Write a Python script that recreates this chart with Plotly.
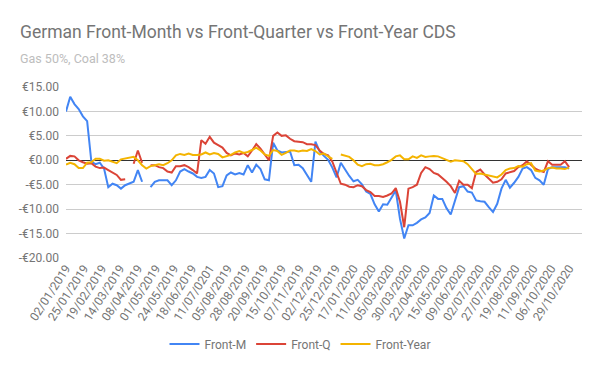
import pandas as pd
import plotly.graph_objects as go

# ---------------- data ----------------
# x axis: business-day categories (labels shown every 17th day)
business_days = [d.strftime("%d/%m/%Y") for d in pd.bdate_range("2019-01-02", periods=489)]
tick_labels = ["02/01/2019", "25/01/2019", "19/02/2019", "14/03/2019", "08/04/2019",
               "01/05/2019", "24/05/2019", "18/06/2019", "11/07/0201", "05/08/2019",
               "28/08/2019", "20/09/2019", "15/10/2019", "07/11/2019", "02/12/2019",
               "25/12/2019", "17/01/2020", "11/02/2020", "05/03/2020", "30/03/2020",
               "22/04/2020", "15/05/2020", "09/06/2020", "02/07/2020", "27/07/2020",
               "19/08/2020", "11/09/2020", "06/10/2020", "29/10/2020"]
tick_dates = business_days[::17][:len(tick_labels)]

# values read every 4th business day (None = missing)
sample_dates = business_days[0:477:4]

front_m = [10.0, 13.0, 11.5, 10.5, 9.0, 8.0, -0.3, -0.8, -0.5, -1.7,
           -5.5, -4.8, -5.1, -5.8, -5.1, -4.8, -4.4, -2.0, -4.4, None,
           -5.5, -4.4, -4.1, -4.1, -4.1, -5.1, -4.1, -2.3, -1.8, -2.3,
           -2.7, -3.4, -3.6, -3.4, -2.0, -2.7, -5.5, -5.3, -3.1, -2.5,
           -2.9, -2.6, -2.9, -1.0, -2.5, -0.9, -1.8, -3.9, -4.1, 3.6,
           2.0, 1.6, 1.7, 1.8, -1.0, -0.9, -1.6, -2.9, -4.4, 3.8,
           1.8, 0.9, 0.1, -1.5, -3.5, -0.5, -2.0, -3.2, -4.3, -4.0,
           -4.9, -6.4, -6.9, -9.0, -10.5, -9.0, -9.1, -7.5, -6.2, -12.0,
           -16.0, -13.3, -13.3, -12.8, -12.1, -11.7, -10.8, -7.2, -7.9, -7.9,
           -9.8, -11.1, -8.5, -5.5, -5.3, -6.4, -6.6, -8.2, -8.4, -8.5,
           -9.6, -10.6, -8.9, -5.8, -4.0, -5.6, -4.6, -3.4, -1.7, -1.4,
           -2.0, -3.6, -4.1, -5.0, -1.8, -1.4, -1.4, -1.4, -1.4, -1.7]

front_q = [0.3, 0.9, 0.8, 0.0, -0.4, -0.7, -0.6, -1.3, -1.6, -1.5,
           -2.0, -2.5, -3.0, -4.0, -3.9, None, -0.7, 2.0, -0.5, None,
           -1.0, -1.0, -1.4, -1.6, -2.3, -2.5, -1.2, -1.2, -1.0, -1.4,
           -2.0, -2.7, 4.1, 3.4, 4.8, 3.6, 3.1, 2.6, 1.5, 1.0,
           1.4, 1.2, 1.5, 0.8, 2.0, 3.3, 2.4, 1.2, 0.0, 5.0,
           5.7, 5.0, 5.1, 4.4, 3.9, 3.8, 3.7, 3.3, 3.3, 3.1,
           2.0, 1.3, 1.0, -0.3, -2.4, -4.8, -5.0, -5.4, -5.5, -5.1,
           -5.3, -6.1, -6.5, -7.3, -7.3, -7.5, -7.2, -6.8, -5.7, -8.5,
           -13.7, -5.8, -5.5, -5.0, -2.6, -1.4, -1.8, -2.6, -2.9, -3.6,
           -4.4, -5.3, -6.7, -4.2, -5.0, -5.0, -5.7, -2.4, -1.9, -2.9,
           -3.8, -4.6, -4.4, -3.9, -2.7, -2.5, -2.2, -1.4, -1.0, -0.2,
           -0.9, -1.7, -2.1, -2.4, -0.2, -0.9, -0.9, -0.9, -0.2, -1.4]

front_year = [-0.9, -0.5, -0.8, -1.6, -1.6, -0.5, -0.4, 0.3, 0.3, -0.1,
              0.0, -0.3, -0.6, 0.2, 0.4, 0.6, 0.7, 0.0, -1.0, -1.7,
              -1.2, -1.0, -0.8, -1.0, -0.6, 0.0, 1.0, 1.3, 1.1, 1.4,
              1.1, 1.1, 1.2, 1.6, 1.2, 1.5, 1.3, 0.6, 0.9, 1.1,
              1.6, 1.9, 1.5, 1.7, 2.1, 2.6, 2.0, 1.2, 0.9, 2.1,
              1.9, 1.1, 1.5, 2.0, 2.0, 1.8, 2.0, 1.9, 2.3, 1.9,
              1.2, 1.4, 0.8, 0.3, None, 1.2, 1.0, 0.7, 0.0, -0.9,
              -1.2, -0.8, -0.7, -1.0, -1.0, -0.8, -0.4, 0.1, 0.8, 1.0,
              0.2, 0.2, 0.8, 0.5, 1.0, 0.7, 0.8, 0.9, 0.8, 0.5,
              0.1, -0.3, 0.0, -0.1, -0.2, -0.8, -1.8, -2.8, -2.7, -2.9,
              -3.2, -3.4, -3.5, -2.9, -2.0, -1.7, -1.6, -1.2, -1.3, -0.8,
              -0.6, -2.1, -2.3, -2.1, -1.6, -1.5, -1.7, -1.7, -1.8, -1.5]

series_names = ["Front-M", "Front-Q", "Front-Year"]
series_colors = ["#4285F4", "#DB4437", "#F4B400"]

y_tick_vals = [-20, -15, -10, -5, 0, 5, 10, 15]
y_tick_text = ["-€20.00", "-€15.00", "-€10.00", "-€5.00", "€0.00", "€5.00", "€10.00", "€15.00"]

title_text = "German Front-Month vs Front-Quarter vs Front-Year CDS"
subtitle_text = "Gas 50%, Coal 38%"

# ---------------- figure ----------------
FONT = "Roboto, Arial, sans-serif"
fig = go.Figure()
for name, vals, col in zip(series_names, [front_m, front_q, front_year], series_colors):
    fig.add_trace(go.Scatter(x=sample_dates, y=vals, name=name, mode="lines",
                             line=dict(color=col, width=2), connectgaps=False))

L, R, T, B = 66, 18, 87, 113
plot_w = 600 - L - R
plot_h = 371 - T - B
fig.update_layout(
    width=600, height=371,
    margin=dict(l=L, r=R, t=T, b=B, autoexpand=False),
    paper_bgcolor="white", plot_bgcolor="white",
    font=dict(family=FONT, size=12, color="#757575"),
    showlegend=True,
    legend=dict(orientation="h", x=(300 - L) / plot_w, xanchor="center",
                y=(258 - 344) / plot_h, yanchor="middle",
                font=dict(size=12, color="#757575"),
                itemwidth=30, tracegroupgap=0, bgcolor="rgba(0,0,0,0)"),
    annotations=[
        dict(text=title_text, xref="paper", yref="paper", x=(18 - L) / plot_w,
             y=(258 - 32) / plot_h, xanchor="left", yanchor="middle", showarrow=False,
             font=dict(family=FONT, size=17.5, color="#757575")),
        dict(text=subtitle_text, xref="paper", yref="paper", x=(18 - L) / plot_w,
             y=(258 - 58) / plot_h, xanchor="left", yanchor="middle", showarrow=False,
             font=dict(family=FONT, size=12.5, color="#BDBDBD")),
    ],
)
fig.update_xaxes(type="category", categoryorder="array", categoryarray=business_days,
                 range=[0, 488.2], showgrid=False, zeroline=False, showline=False,
                 tickmode="array", tickvals=tick_dates, ticktext=tick_labels,
                 tickangle=-57, ticks="", tickfont=dict(size=12, color="#757575"))
fig.update_yaxes(range=[-20, 15], tickmode="array", tickvals=y_tick_vals, ticktext=y_tick_text,
                 showgrid=True, gridcolor="#CCCCCC", gridwidth=1,
                 zeroline=True, zerolinecolor="#333333", zerolinewidth=1,
                 showline=False, ticks="", ticklabelstandoff=6,
                 tickfont=dict(size=12, color="#757575"))

fig.write_html("out.html", config={"displayModeBar": False},
               post_script="document.body.style.margin='0';document.body.style.overflow='hidden';")
